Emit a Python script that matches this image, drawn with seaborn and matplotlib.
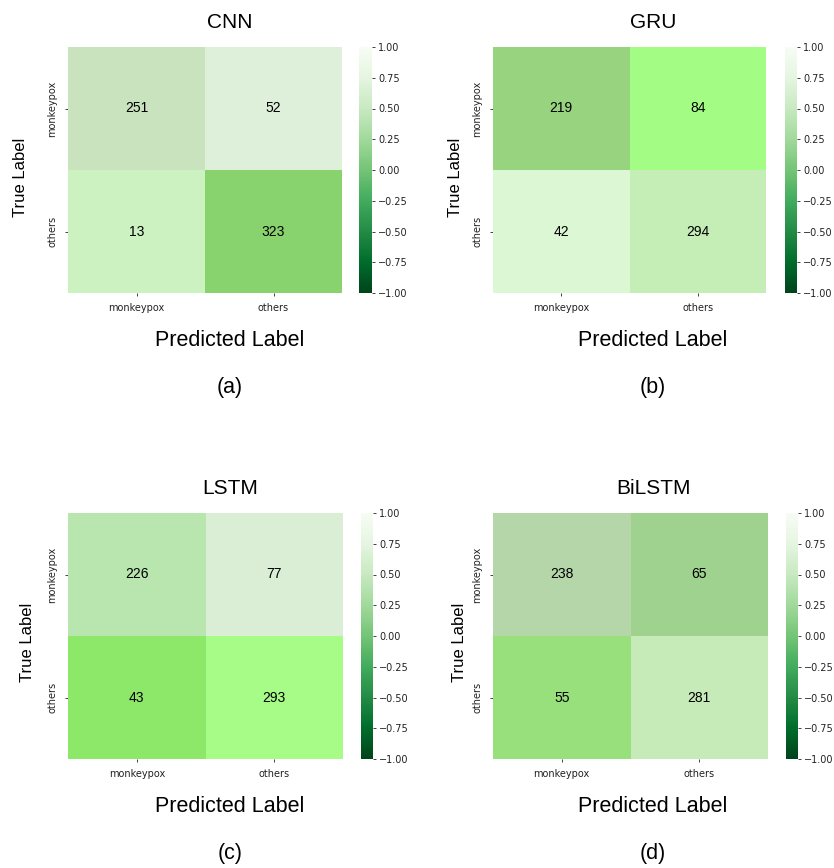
import numpy as np
import matplotlib
matplotlib.use("Agg")
import matplotlib.pyplot as plt
from matplotlib.colors import ListedColormap, BoundaryNorm, Normalize
from matplotlib.cm import ScalarMappable
import seaborn as sns

sns.set_style("white")
plt.rcParams["font.family"] = ["DejaVu Sans"]
plt.rcParams["text.color"] = "black"
plt.rcParams["xtick.color"] = "#222222"
plt.rcParams["ytick.color"] = "#222222"

# Confusion-matrix counts per model (rows: true, cols: predicted)
class_labels = ["monkeypox", "others"]
model_names = ["CNN", "GRU", "LSTM", "BiLSTM"]
panel_tags = ["(a)", "(b)", "(c)", "(d)"]

cnn_counts = [[251, 52], [13, 323]]
gru_counts = [[219, 84], [42, 294]]
lstm_counts = [[226, 77], [43, 293]]
bilstm_counts = [[238, 65], [55, 281]]

# Cell fill colours for each matrix
cnn_colors = [["#c8e3bd", "#dff0da"], ["#cdf2c1", "#88d36e"]]
gru_colors = [["#98d47f", "#a3fd85"], ["#dcf7d4", "#c4eeb5"]]
lstm_colors = [["#b8e6ae", "#d9eed4"], ["#8de86a", "#a6fc86"]]
bilstm_colors = [["#b4d6a8", "#9ed28e"], ["#98e07c", "#c6eab8"]]

cbar_ticks = [-1.0, -0.75, -0.5, -0.25, 0.0, 0.25, 0.5, 0.75, 1.0]

all_counts = [cnn_counts, gru_counts, lstm_counts, bilstm_counts]
all_colors = [cnn_colors, gru_colors, lstm_colors, bilstm_colors]

W, H = 834, 868
fig = plt.figure(figsize=(W / 100, H / 100), dpi=100)

def fx(px):
    return px / W

def fy(py):
    return 1 - py / H

# pixel layout: (heatmap left, right, colorbar left, right, top, bottom, text center x,
#                title y, xlabel y, tag y, ylabel x, ylabel y)
layouts = [
    (68, 342, 359, 372, 47, 293, 230, 22, 340, 388, 21, 177),
    (493, 766, 785, 797, 47, 293, 653, 22, 340, 388, 455, 177),
    (68, 343, 361, 373, 513, 759, 230, 488, 807, 853, 28, 642),
    (493, 768, 786, 798, 513, 759, 653, 488, 807, 853, 459, 642),
]

for counts, colors, name, tag, lay in zip(all_counts, all_colors, model_names, panel_tags, layouts):
    l, r, cl, cr, t, b, cx, ty, xly, tgy, ylx, yly = lay
    ax = fig.add_axes([fx(l), fy(b), fx(r - l), (b - t) / H])
    cax = fig.add_axes([fx(cl), fy(b), fx(cr - cl), (b - t) / H])

    data = np.array(counts)
    cols = np.array(colors)
    flat = data.ravel()
    order = np.argsort(flat)
    sorted_vals = flat[order]
    cmap = ListedColormap([cols.ravel()[i] for i in order])
    mids = (sorted_vals[:-1] + sorted_vals[1:]) / 2
    bounds = np.concatenate([[sorted_vals[0] - 1], mids, [sorted_vals[-1] + 1]])
    norm = BoundaryNorm(bounds, cmap.N)

    sns.heatmap(data, ax=ax, cmap=cmap, norm=norm, cbar=False, annot=True, fmt="d",
                annot_kws={"fontsize": 10, "color": "black", "family": "Liberation Sans",
                           "fontweight": "medium"},
                xticklabels=class_labels, yticklabels=class_labels)
    ax.tick_params(axis="both", which="both", length=2.5, width=0.6, labelsize=7, pad=5,
                   left=True, bottom=True)
    ax.set_yticklabels(class_labels, rotation=90, va="center")
    ax.set_xticklabels(class_labels, rotation=0)

    cb = fig.colorbar(ScalarMappable(norm=Normalize(-1, 1), cmap="Greens_r"), cax=cax)
    cb.outline.set_visible(False)
    cb.set_ticks(cbar_ticks)
    cb.ax.set_yticklabels([f"{v:.2f}".replace("-", "\u2212") for v in cbar_ticks])
    cb.ax.tick_params(labelsize=7, length=2.5, width=0.6, pad=2)

    fig.text(fx(cx), fy(ty), name, ha="center", va="center", fontsize=15,
             family="Liberation Sans")
    fig.text(fx(cx), fy(xly), "Predicted Label", ha="center", va="center", fontsize=15.5,
             family="Liberation Sans")
    fig.text(fx(cx), fy(tgy), tag, ha="center", va="center", fontsize=15.5,
             family="Liberation Sans")
    fig.text(fx(ylx), fy(yly), "True Label", ha="center", va="center", rotation=90,
             fontsize=12, family="Liberation Sans")

fig.savefig("out.png", dpi=100, facecolor="white")
